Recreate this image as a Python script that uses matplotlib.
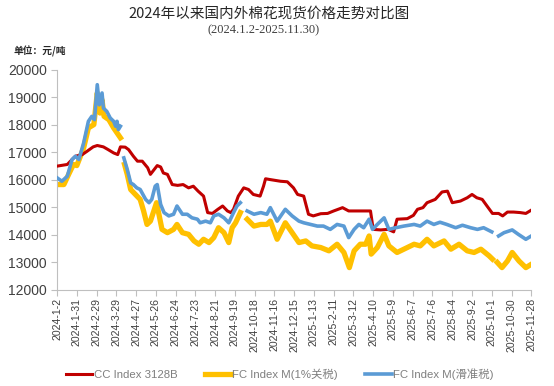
import numpy as np
import pandas as pd
import matplotlib
matplotlib.use("Agg")
import matplotlib.pyplot as plt

plt.rcParams['font.family'] = ['Liberation Sans', 'Noto Sans CJK SC']

# days since 2024-1-2, value (yuan/ton); nan marks a break in the line
cc_days = [0, 15, 22, 27, 37, 44, 53, 59, 68, 75, 83, 89, 93, 100, 105, 112, 118, 125, 133, 137,
           147, 152, 156, 162, 169, 177, 185, 193, 200, 207, 215, 221, 228, 236, 243, 250, 255, 259,
           266, 274, 281, 288, 298, 303, 306, 313, 328, 338, 347, 353, 362, 369, 376, 387, 397, 406,
           419, 428, 441, 460, 464, 475, 486, 494, 499, 514, 523, 529, 537, 543, 555, 565, 573, 580,
           592, 602, 609, 616, 624, 631, 639, 648, 654, 661, 670, 680, 688, 696]
cc_vals = [16500, 16560, 16740, 16860, 16920, 17040, 17200, 17250, 17200, 17100, 16980, 16920, 17200,
           17190, 17100, 16860, 16680, 16680, 16440, 16200, 16520, 16470, 16250, 16200, 15830, 15800,
           15830, 15710, 15770, 15590, 15410, 14810, 14780, 14930, 15050, 14870, 14810, 14930, 15410,
           15710, 15650, 15470, 15410, 15770, 16040, 16010, 15950, 15930, 15710, 15470, 15410, 14750,
           14690, 14770, 14780, 14870, 14990, 14870, 14870, 14870, 14200, 14180, 14200, 14110, 14570,
           14590, 14710, 14930, 14990, 15170, 15290, 15560, 15590, 15170, 15230, 15350, 15470, 15350,
           15290, 15050, 14780, 14780, 14690, 14830, 14830, 14810, 14780, 14900]

fc1_days = [0, 10, 17, 24, 29, 39, 46, 54, 59, 63, 66, 69, 76, 83, 88, 93, 96, 99, 103, 108, 115,
            122, 127, 132, 137, 142, 146, 149, 154, 162, 171, 176, 184, 193, 201, 208, 215, 223, 230,
            237, 245, 252, 257, 262, 269, 274, 279, 289, 299, 308, 313, 323, 335, 345, 355, 365, 374,
            387, 399, 411, 421, 429, 436, 445, 453, 458, 461, 470, 480, 487, 499, 509, 524, 533, 543,
            553, 568, 578, 590, 602, 612, 622, 634, 639, 642, 646, 653, 661, 668, 678, 688, 696]
fc1_vals = [15830, 15830, 16200, 16560, 16520, 17160, 17890, 18010, 19160, 18430, 18910, 18310, 18190,
            17890, 17710, 17530, np.nan, 16560, 16200, 15650, 15470, 15290, 14870, 14380, 14500, 14870,
            15170, 14810, 14200, 14080, 14200, 14380, 14080, 14020, 13780, 13660, 13840, 13720, 13900,
            14260, 14080, 13720, 14260, 14440, 14810, np.nan, 14570, 14320, 14380, 14380, 14500, 13840,
            14440, 14080, 13720, 13780, 13600, 13540, 13420, 13660, 13360, 12810, 13420, 13660, 13660,
            13960, 13300, 13540, 14020, 13600, 13360, 13480, 13660, 13600, 13840, 13600, 13780, 13480,
            13660, 13420, 13360, 13480, 13240, 13120, np.nan, 13000, 12810, 13050, 13360, 13050, 12810,
            12930]

fcs_days = [0, 7, 15, 22, 27, 32, 39, 46, 51, 55, 59, 62, 66, 68, 73, 78, 83, 86, 88, 90, 93, 95,
            98, 103, 108, 112, 117, 122, 130, 135, 139, 144, 147, 152, 157, 164, 171, 176, 184, 191,
            198, 206, 210, 218, 225, 230, 237, 245, 252, 259, 264, 269, 274, 279, 289, 299, 308, 313,
            323, 335, 345, 355, 362, 372, 382, 391, 401, 411, 421, 428, 436, 443, 450, 458, 463, 470,
            480, 487, 497, 509, 524, 533, 543, 553, 562, 572, 585, 595, 607, 617, 626, 638, 643, 648,
            656, 668, 677, 688, 696]
fcs_vals = [16075, 15950, 16130, 16740, 16860, 16740, 17340, 18130, 18310, 18190, 19460, 18730, 19160,
            18610, 18490, 18250, 18130, 17950, 18130, 17830, 17950, np.nan, 16800, 16380, 15890, 15830,
            15710, 15650, 15290, 15170, 15290, 15770, 15830, 15110, 14810, 14690, 14750, 15050, 14750,
            14750, 14620, 14570, 14440, 14500, 14440, 14690, 14750, 14620, 14440, 14810, 15050, 15170,
            np.nan, 14870, 14750, 14810, 14750, 14990, 14500, 14930, 14690, 14500, 14440, 14380, 14320,
            14320, 14200, 14380, 14320, 13900, 14200, 14380, 14260, 14570, 14200, 14380, 14620, 14200,
            14260, 14320, 14380, 14320, 14500, 14380, 14460, 14380, 14260, 14350, 14260, 14200, 14260,
            14110, np.nan, 13960, 14080, 14180, 14020, 13840, 13960]

names = ['CC Index 3128B', 'FC Index M(1%关税)', 'FC Index M(滑准税)']

base = pd.Timestamp('2024-01-02')
tick_dates = pd.date_range('2024-01-02', periods=25, freq='29D')
tick_labels = [f"{d.year}-{d.month}-{d.day}" for d in tick_dates]


def to_dates(days):
    return base + pd.to_timedelta(days, unit='D')


fig = plt.figure(figsize=(5.54, 3.86), dpi=100)
ax = fig.add_axes([0.103, 0.249, 0.856, 0.570])

ax.plot(to_dates(cc_days), cc_vals, color='#C00000', lw=2.2, label=names[0], zorder=3)
ax.plot(to_dates(fc1_days), fc1_vals, color='#FFC000', lw=3.8, label=names[1], zorder=2)
ax.plot(to_dates(fcs_days), fcs_vals, color='#5B9BD5', lw=2.6, label=names[2], zorder=4)

ax.set_xlim(tick_dates[0], tick_dates[-1])
ax.set_ylim(12000, 20000)
ax.set_yticks(range(12000, 20001, 1000))
ax.set_xticks(tick_dates)
ax.set_xticklabels(tick_labels, rotation=90, fontsize=7.6, color='#404040')
ax.tick_params(axis='y', labelsize=10, colors='#404040', length=4, color='#BFBFBF')
ax.tick_params(axis='x', length=4, color='#BFBFBF', pad=2)
for s in ['top', 'right']:
    ax.spines[s].set_visible(False)
for s in ['left', 'bottom']:
    ax.spines[s].set_color('#BFBFBF')

fig.text(0.485, 0.965, '2024年以来国内外棉花现货价格走势对比图', ha='center', va='center',
         fontsize=10.5, family=['Noto Sans CJK SC'], color='#262626')
fig.text(0.475, 0.922, '(2024.1.2-2025.11.30)', ha='center', va='center',
         fontsize=9, family=['Liberation Serif'], color='#404040')
fig.text(0.024, 0.868, '单位：元/吨', ha='left', va='center', fontsize=7,
         family=['Noto Sans CJK SC'], weight='bold', color='#262626')

handles, labels = ax.get_legend_handles_labels()
leg = fig.legend(handles, labels, loc='center', bbox_to_anchor=(0.505, 0.03), ncol=3, frameon=False,
                 fontsize=8.2, handlelength=2.3, handletextpad=0.15, columnspacing=2.4)
for t in leg.get_texts():
    t.set_color('#7F7F7F')

fig.savefig('out.png', dpi=100)
